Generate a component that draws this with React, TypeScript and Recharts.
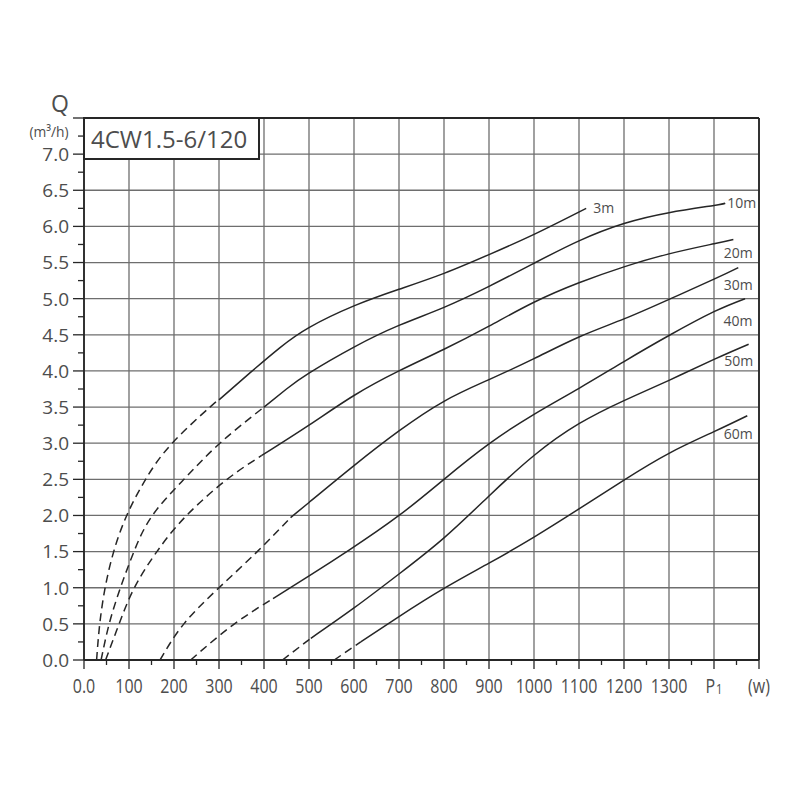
import React from "react"
import {
  LineChart,
  Line,
  XAxis,
  YAxis,
  CartesianGrid,
  ReferenceLine,
  LabelList,
} from "recharts"

// P1 (W) against Q (m3/h) for each head; dashed = start-up part, solid = working range
const head3m = [[28, 0], [35, 0.5], [47, 1.0], [66, 1.5], [95, 2.0], [137, 2.5], [196, 3.0], [280, 3.5], [300, 3.6]]
const tail3m = [[300, 3.6], [370, 3.98], [435, 4.32], [500, 4.6], [600, 4.9], [700, 5.13], [800, 5.35], [900, 5.61], [1000, 5.89], [1116, 6.25]]

const head10m = [[38, 0], [56, 0.5], [81, 1.0], [111, 1.5], [152, 2.0], [222, 2.5], [302, 3.0], [400, 3.5]]
const tail10m = [[400, 3.5], [450, 3.75], [500, 3.97], [600, 4.33], [700, 4.63], [800, 4.88], [900, 5.17], [1000, 5.49], [1100, 5.8], [1200, 6.04], [1300, 6.19], [1400, 6.29], [1425, 6.32]]

const head20m = [[48, 0], [78, 0.5], [112, 1.0], [162, 1.5], [228, 2.0], [318, 2.5], [395, 2.83]]
const tail20m = [[395, 2.83], [500, 3.25], [600, 3.66], [700, 4.0], [800, 4.3], [900, 4.62], [1000, 4.95], [1100, 5.22], [1200, 5.44], [1300, 5.62], [1400, 5.76], [1443, 5.82]]

const head30m = [[169, 0], [222, 0.5], [300, 1.0], [385, 1.5], [459, 1.97]]
const tail30m = [[459, 1.97], [500, 2.18], [600, 2.69], [700, 3.17], [800, 3.58], [900, 3.88], [1000, 4.17], [1100, 4.47], [1200, 4.72], [1300, 4.99], [1400, 5.27], [1454, 5.43]]

const head40m = [[237, 0], [330, 0.48], [420, 0.85]]
const tail40m = [[420, 0.85], [502, 1.17], [589, 1.52], [700, 2.0], [800, 2.5], [900, 2.99], [1000, 3.4], [1100, 3.76], [1200, 4.13], [1300, 4.49], [1400, 4.82], [1469, 5.0]]

const head50m = [[441, 0], [504, 0.3]]
const tail50m = [[504, 0.3], [600, 0.72], [700, 1.19], [800, 1.69], [900, 2.27], [1000, 2.83], [1100, 3.27], [1200, 3.59], [1300, 3.87], [1400, 4.16], [1477, 4.37]]

const head60m = [[556, 0], [615, 0.25]]
const tail60m = [[615, 0.25], [700, 0.6], [800, 0.99], [900, 1.34], [1000, 1.7], [1100, 2.09], [1200, 2.49], [1300, 2.86], [1400, 3.16], [1474, 3.38]]

const curveNames = ["3m", "10m", "20m", "30m", "40m", "50m", "60m"]
const heads = [head3m, head10m, head20m, head30m, head40m, head50m, head60m]
const tails = [tail3m, tail10m, tail20m, tail30m, tail40m, tail50m, tail60m]

// axis ticks and their labels
const xMajor = [0, 100, 200, 300, 400, 500, 600, 700, 800, 900, 1000, 1100, 1200, 1300, 1400, 1500]
const xLabels = ["0.0", "100", "200", "300", "400", "500", "600", "700", "800", "900", "1000", "1100", "1200", "1300", "P1", "(w)"]
const yMajor = [0, 0.5, 1, 1.5, 2, 2.5, 3, 3.5, 4, 4.5, 5, 5.5, 6, 6.5, 7, 7.5]
const yLabels = ["0.0", "0.5", "1.0", "1.5", "2.0", "2.5", "3.0", "3.5", "4.0", "4.5", "5.0", "5.5", "6.0", "6.5", "7.0", ""]

const title = "4CW1.5-6/120"

// where each head label sits relative to the curve end
const labelPlace = [
  { dx: 7, dy: 0, anchor: "start" },
  { dx: 2, dy: 0, anchor: "start" },
  { dx: 5, dy: 14, anchor: "middle" },
  { dx: 0, dy: 18, anchor: "middle" },
  { dx: -7, dy: 22, anchor: "middle" },
  { dx: -10, dy: 17, anchor: "middle" },
  { dx: -9, dy: 18, anchor: "middle" },
]

const font = "'Open Sans', 'Noto Sans', sans-serif"
const ink = "#262626"
const textInk = "#4d4d4d"
const gridInk = "#6e6e6e"

const toPoints = (arr: number[][]) => arr.map(([w, q]) => ({ w, q }))

const xTicks = xMajor.flatMap((v) => (v < 1500 ? [v, v + 50] : [v]))
const yTicks = yMajor.flatMap((v) => (v < 7.5 ? [v, v + 0.25] : [v]))

function XTick(props: any) {
  const { x, y, payload } = props
  const i = xMajor.indexOf(payload.value)
  const major = i >= 0
  const label = major ? xLabels[i] : ""
  return (
    <g>
      <line x1={x} x2={x} y1={y} y2={y + (major ? 9 : 5)} stroke={ink} strokeWidth={1.3} />
      {major && (
        <text
          transform={`translate(${x},${y + 33}) scale(0.8,1)`}
          textAnchor="middle"
          fontFamily={font}
          fontSize={20}
          fill={textInk}
        >
          {label === "P1" ? (
            <>
              P<tspan fontSize={14} dx={1} dy={1}>1</tspan>
            </>
          ) : (
            label
          )}
        </text>
      )}
    </g>
  )
}

function YTick(props: any) {
  const { x, y, payload } = props
  const i = yMajor.indexOf(payload.value)
  const major = i >= 0
  return (
    <g>
      <line x1={x - (major ? 11 : 6)} x2={x} y1={y} y2={y} stroke={ink} strokeWidth={1.3} />
      {major && yLabels[i] && (
        <text
          x={x - 15}
          y={y}
          dy="0.36em"
          textAnchor="end"
          fontFamily={font}
          fontSize={19}
          fill={textInk}
        >
          {yLabels[i]}
        </text>
      )}
    </g>
  )
}

function endLabel(idx: number) {
  const last = tails[idx].length - 1
  const place = labelPlace[idx]
  return (props: any) => {
    if (props.index !== last) return null
    return (
      <text
        x={props.x + place.dx}
        y={props.y + place.dy}
        dy="0.35em"
        textAnchor={place.anchor}
        fontFamily={font}
        fontSize={14}
        fill={textInk}
      >
        {curveNames[idx]}
      </text>
    )
  }
}

export default function App() {
  return (
    <div style={{ position: "absolute", left: 0, top: 0, width: 800, height: 800, background: "#fff" }}>
      <LineChart width={800} height={800} margin={{ top: 118, right: 41, bottom: 110, left: 24 }}>
        <CartesianGrid
          horizontalValues={yMajor}
          verticalValues={xMajor}
          stroke={gridInk}
          strokeWidth={1.3}
        />
        <XAxis
          type="number"
          dataKey="w"
          domain={[0, 1500]}
          ticks={xTicks}
          interval={0}
          tick={<XTick />}
          tickLine={false}
          tickSize={0}
          tickMargin={0}
          axisLine={{ stroke: ink, strokeWidth: 1.8 }}
          height={30}
          allowDataOverflow
        />
        <YAxis
          type="number"
          dataKey="q"
          domain={[0, 7.5]}
          ticks={yTicks}
          interval={0}
          tick={<YTick />}
          tickLine={false}
          tickSize={0}
          tickMargin={0}
          axisLine={{ stroke: ink, strokeWidth: 1.8 }}
          width={60}
          allowDataOverflow
        />
        <ReferenceLine y={7.5} stroke={ink} strokeWidth={1.8} />
        <ReferenceLine x={1500} stroke={ink} strokeWidth={1.8} />
        {heads.map((h, i) => (
          <Line
            key={"h" + i}
            data={toPoints(h)}
            dataKey="q"
            type="natural"
            stroke={ink}
            strokeWidth={1.5}
            strokeDasharray="8 5"
            dot={false}
            activeDot={false}
            isAnimationActive={false}
          />
        ))}
        {tails.map((t, i) => (
          <Line
            key={"t" + i}
            data={toPoints(t)}
            dataKey="q"
            type="natural"
            stroke={ink}
            strokeWidth={1.5}
            dot={false}
            activeDot={false}
            isAnimationActive={false}
          >
            <LabelList dataKey="q" content={endLabel(i)} />
          </Line>
        ))}
      </LineChart>

      <div
        style={{
          position: "absolute",
          right: 800 - 69,
          top: 121,
          fontFamily: font,
          fontSize: 15,
          color: textInk,
          whiteSpace: "nowrap",
          transform: "scaleX(0.92)",
          transformOrigin: "right",
        }}
      >
        (m³/h)
      </div>
      <div
        style={{
          position: "absolute",
          right: 800 - 69,
          top: 88,
          fontFamily: font,
          fontSize: 23,
          lineHeight: "30px",
          color: textInk,
        }}
      >
        Q
      </div>
      <div
        style={{
          position: "absolute",
          left: 83,
          top: 117,
          width: 167,
          height: 39,
          border: `2px solid ${ink}`,
          background: "#fff",
          display: "flex",
          alignItems: "center",
          paddingLeft: 6,
          fontFamily: font,
          fontSize: 24,
          color: textInk,
          boxSizing: "content-box",
        }}
      >
        {title}
      </div>
    </div>
  )
}
